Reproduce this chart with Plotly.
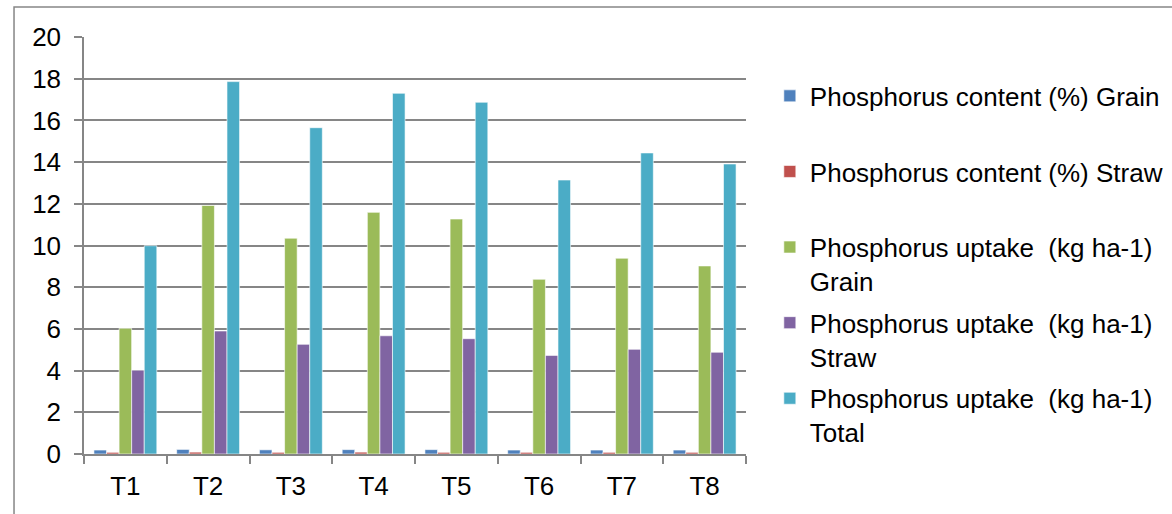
import plotly.graph_objects as go

categories = ["T1", "T2", "T3", "T4", "T5", "T6", "T7", "T8"]
p_content_grain = [0.19, 0.22, 0.20, 0.21, 0.21, 0.19, 0.19, 0.19]
p_content_straw = [0.08, 0.09, 0.08, 0.09, 0.08, 0.08, 0.08, 0.08]
p_uptake_grain = [6.03, 11.92, 10.35, 11.59, 11.27, 8.38, 9.39, 9.02]
p_uptake_straw = [4.02, 5.90, 5.26, 5.67, 5.53, 4.73, 5.02, 4.88]
p_uptake_total = [9.99, 17.86, 15.65, 17.30, 16.87, 13.14, 14.44, 13.91]

series = [
    ("Phosphorus content (%) Grain<br> ", p_content_grain, "#4F81BD"),
    ("Phosphorus content (%) Straw<br> ", p_content_straw, "#C0504D"),
    ("Phosphorus uptake \u00a0(kg ha-1)<br>Grain", p_uptake_grain, "#9BBB59"),
    ("Phosphorus uptake \u00a0(kg ha-1)<br>Straw", p_uptake_straw, "#8064A2"),
    ("Phosphorus uptake \u00a0(kg ha-1)<br>Total", p_uptake_total, "#4BACC6"),
]

fig = go.Figure()
for i, (name, vals, color) in enumerate(series):
    fig.add_trace(go.Bar(
        x=categories, y=vals, name=name, legendgroup=str(i),
        marker=dict(color=color, line=dict(color="rgba(255,255,255,0.6)", width=1)),
    ))

grid = "#868686"
fs = 26
fig.update_layout(
    width=1172, height=514,
    margin=dict(l=84, r=426, t=37, b=60, autoexpand=False),
    paper_bgcolor="white", plot_bgcolor="white",
    font=dict(family="Liberation Sans, Arial, sans-serif", size=fs, color="black"),
    barmode="group", bargap=0.24, bargroupgap=0,
    legend=dict(
        x=1.036, y=0.915, xanchor="left", yanchor="top",
        valign="top", tracegroupgap=5, traceorder="grouped",
        font=dict(size=fs), bgcolor="rgba(0,0,0,0)",
    ),
    xaxis=dict(
        showgrid=False, showline=True, linecolor=grid, linewidth=1.5,
        ticks="outside", ticklen=8, tickcolor=grid, tickwidth=1.5,
        tickson="boundaries", tickfont=dict(size=fs), ticklabelstandoff=8,
    ),
    yaxis=dict(
        range=[0, 20], dtick=2, showgrid=True, gridcolor=grid, gridwidth=1.5,
        showline=True, linecolor=grid, linewidth=1.5, zeroline=False,
        ticks="outside", ticklen=8, tickcolor=grid, tickwidth=1.5,
        tickfont=dict(size=fs), ticklabelstandoff=8,
    ),
    shapes=[dict(
        type="rect", xref="paper", yref="paper",
        x0=-0.1057, x1=1.66, y0=-0.16, y1=1.072,
        line=dict(color=grid, width=1.5), fillcolor="rgba(0,0,0,0)",
        layer="below",
    )],
)

fig.write_html(
    "out.html",
    config={"displayModeBar": False},
    post_script="document.body.style.margin='0';document.body.style.overflow='hidden';",
)
